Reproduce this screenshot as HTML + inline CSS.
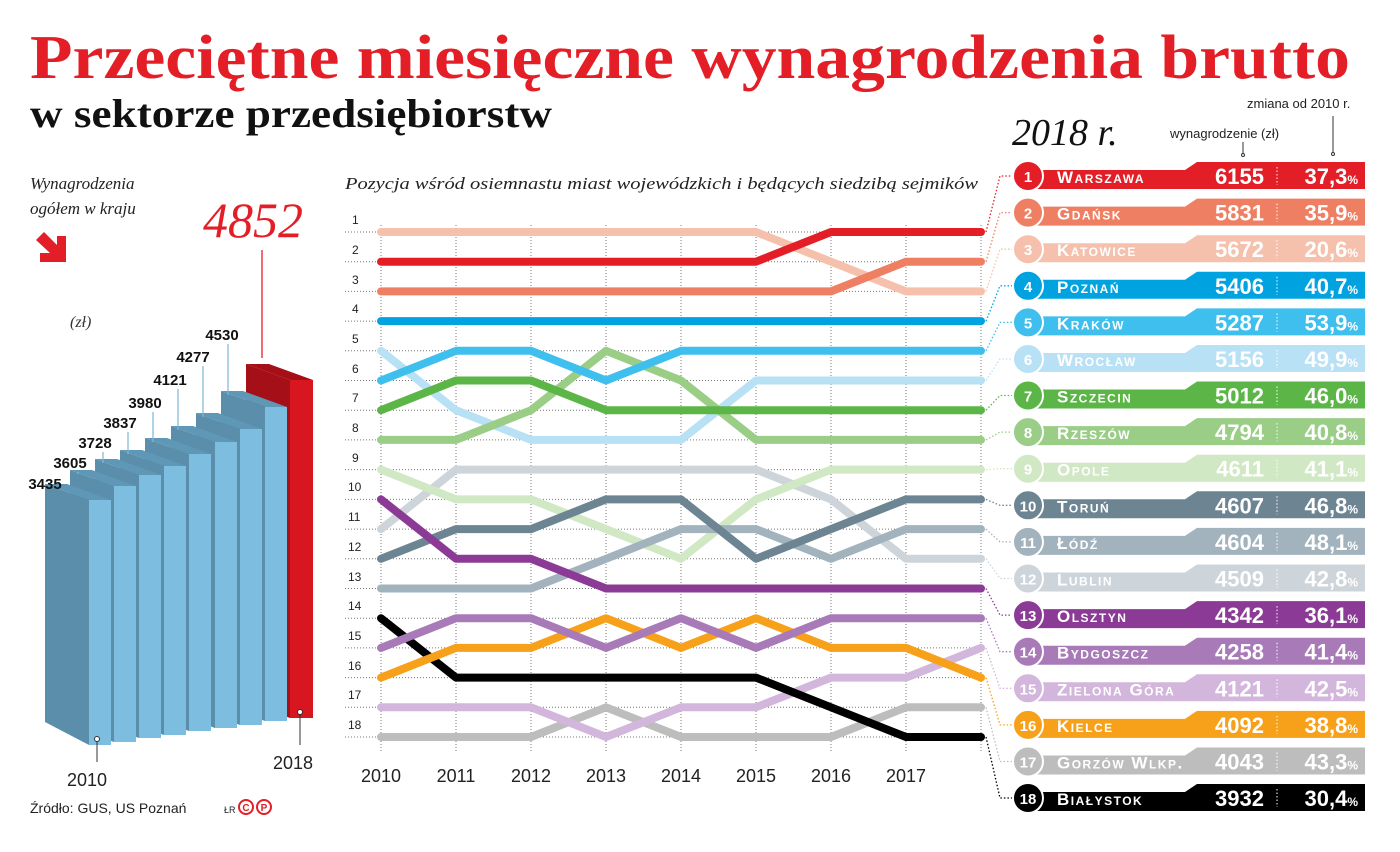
<!DOCTYPE html>
<html><head><meta charset="utf-8">
<style>
html,body{margin:0;padding:0;background:#fff;}
svg{display:block;}
.ser{font-family:"Liberation Serif",serif;}
.sans{font-family:"Liberation Sans",sans-serif;}
.rk{font-family:"Liberation Sans",sans-serif;font-size:12px;fill:#222;}
.yr{font-family:"Liberation Sans",sans-serif;font-size:18px;fill:#222;text-anchor:middle;}
.bl{font-family:"Liberation Sans",sans-serif;font-size:15px;font-weight:bold;fill:#111;text-anchor:middle;}
.n{font-family:"Liberation Sans",sans-serif;font-size:15px;font-weight:bold;fill:#fff;text-anchor:middle;}
.nm{font-family:"Liberation Sans",sans-serif;font-size:17px;font-weight:bold;fill:#fff;font-variant:small-caps;letter-spacing:1.5px;}
.v{font-family:"Liberation Sans",sans-serif;font-size:22px;font-weight:bold;fill:#fff;text-anchor:end;}
.sl{fill:none;stroke-width:8;stroke-linejoin:round;stroke-linecap:round;}
.cn{fill:none;stroke-width:1.3;stroke-dasharray:1.5 2;}
</style></head><body>
<svg width="1400" height="852" viewBox="0 0 1400 852" xmlns="http://www.w3.org/2000/svg">
<rect width="1400" height="852" fill="#fff"/>
<text x="30" y="78" class="ser" font-size="62" font-weight="bold" fill="#e31e26" textLength="1320" lengthAdjust="spacingAndGlyphs">Przeciętne miesięczne wynagrodzenia brutto</text>
<text x="30" y="127" class="ser" font-size="40" font-weight="bold" fill="#111" textLength="522" lengthAdjust="spacingAndGlyphs">w sektorze przedsiębiorstw</text>

<text x="30" y="189" class="ser" font-size="17" font-style="italic" fill="#222">Wynagrodzenia</text>
<text x="30" y="214" class="ser" font-size="17" font-style="italic" fill="#222">ogółem w kraju</text>
<path d="M36,240 L44,232 L57,245 L57,236 L66,236 L66,262 L40,262 L40,253 L50,253 Z" fill="#e31e26"/>
<text x="70" y="327" class="ser" font-size="16" font-style="italic" fill="#333">(zł)</text>
<text x="203" y="237" class="ser" font-size="50" font-style="italic" fill="#e31e26">4852</text>
<line x1="262" y1="250" x2="262" y2="358" stroke="#e31e26" stroke-width="1.3"/>

<g>
<polygon points="246,364 290,380 290,718 246,702" fill="#a50f18"/>
<polygon points="290,380 313,380 269,364 246,364" fill="#a50f18"/>
<rect x="290" y="380" width="23" height="338" fill="#d7161f"/>
<polygon points="221,391 265,407 265,721 221,705" fill="#5a8eab"/>
<polygon points="265,407 287,407 243,391 221,391" fill="#5f97b6"/>
<rect x="265" y="407" width="22" height="314" fill="#7dbde0"/>
<polygon points="196,413 240,429 240,725 196,709" fill="#5a8eab"/>
<polygon points="240,429 262,429 218,413 196,413" fill="#5f97b6"/>
<rect x="240" y="429" width="22" height="296" fill="#7dbde0"/>
<polygon points="171,426 215,442 215,728 171,712" fill="#5a8eab"/>
<polygon points="215,442 237,442 193,426 171,426" fill="#5f97b6"/>
<rect x="215" y="442" width="22" height="286" fill="#7dbde0"/>
<polygon points="145,438 189,454 189,731 145,715" fill="#5a8eab"/>
<polygon points="189,454 211,454 167,438 145,438" fill="#5f97b6"/>
<rect x="189" y="454" width="22" height="277" fill="#7dbde0"/>
<polygon points="120,450 164,466 164,735 120,719" fill="#5a8eab"/>
<polygon points="164,466 186,466 142,450 120,450" fill="#5f97b6"/>
<rect x="164" y="466" width="22" height="269" fill="#7dbde0"/>
<polygon points="95,459 139,475 139,738 95,722" fill="#5a8eab"/>
<polygon points="139,475 161,475 117,459 95,459" fill="#5f97b6"/>
<rect x="139" y="475" width="22" height="263" fill="#7dbde0"/>
<polygon points="70,470 114,486 114,742 70,726" fill="#5a8eab"/>
<polygon points="114,486 136,486 92,470 70,470" fill="#5f97b6"/>
<rect x="114" y="486" width="22" height="256" fill="#7dbde0"/>
<polygon points="45,484 89,500 89,745 45,722" fill="#5a8eab"/>
<polygon points="89,500 111,500 67,484 45,484" fill="#5f97b6"/>
<rect x="89" y="500" width="22" height="245" fill="#7dbde0"/>
</g>
<g stroke="#7ab8d6" stroke-width="1.2">
<line x1="78" y1="472" x2="78" y2="474"/>
<line x1="103" y1="452" x2="103" y2="463"/>
<line x1="128" y1="432" x2="128" y2="454"/>
<line x1="153" y1="412" x2="153" y2="442"/>
<line x1="178" y1="389" x2="178" y2="430"/>
<line x1="203" y1="366" x2="203" y2="417"/>
<line x1="228" y1="344" x2="228" y2="395"/>
</g>
<text x="45" y="489" class="bl">3435</text>
<text x="70" y="468" class="bl">3605</text>
<text x="95" y="448" class="bl">3728</text>
<text x="120" y="428" class="bl">3837</text>
<text x="145" y="408" class="bl">3980</text>
<text x="170" y="385" class="bl">4121</text>
<text x="193" y="362" class="bl">4277</text>
<text x="222" y="340" class="bl">4530</text>
<line x1="97" y1="740" x2="97" y2="762" stroke="#333" stroke-width="1"/>
<circle cx="97" cy="739" r="2.5" fill="#fff" stroke="#333"/>
<line x1="300" y1="713" x2="300" y2="745" stroke="#333" stroke-width="1"/>
<circle cx="300" cy="712" r="2.5" fill="#fff" stroke="#333"/>
<text x="87" y="786" class="yr">2010</text>
<text x="293" y="769" class="yr">2018</text>
<text x="30" y="813" class="sans" font-size="14" fill="#222">Źródło: GUS, US Poznań</text>
<text x="224" y="813" class="sans" font-size="9" fill="#222">ŁR</text>
<circle cx="246" cy="807" r="7" fill="none" stroke="#e31e26" stroke-width="2"/>
<text x="246" y="811" class="sans" font-size="10" font-weight="bold" fill="#e31e26" text-anchor="middle">C</text>
<circle cx="264" cy="807" r="7" fill="none" stroke="#e31e26" stroke-width="2"/>
<text x="264" y="811" class="sans" font-size="10" font-weight="bold" fill="#e31e26" text-anchor="middle">P</text>

<text x="345" y="189" class="ser" font-size="17" font-style="italic" fill="#222" textLength="633" lengthAdjust="spacingAndGlyphs">Pozycja wśród osiemnastu miast wojewódzkich i będących siedzibą sejmików</text>
<g stroke="#777" stroke-width="1" stroke-dasharray="1 2" fill="none">
<path d="M345,232H980M345,261.7H980M345,291.4H980M345,321.1H980M345,350.8H980M345,380.5H980M345,410.2H980M345,439.9H980M345,469.6H980M345,499.4H980M345,529.1H980M345,558.8H980M345,588.5H980M345,618.2H980M345,647.9H980M345,677.6H980M345,707.3H980M345,737H980"/>
<path d="M381,225V752M456,225V752M531,225V752M606,225V752M681,225V752M756,225V752M831,225V752M906,225V752M981,225V752"/>
</g>
<g class="rk">
<text x="352" y="224">1</text><text x="352" y="254">2</text><text x="352" y="284">3</text><text x="352" y="313">4</text><text x="352" y="343">5</text><text x="352" y="373">6</text><text x="352" y="402">7</text><text x="352" y="432">8</text><text x="352" y="462">9</text><text x="348" y="491">10</text><text x="348" y="521">11</text><text x="348" y="551">12</text><text x="348" y="581">13</text><text x="348" y="610">14</text><text x="348" y="640">15</text><text x="348" y="670">16</text><text x="348" y="699">17</text><text x="348" y="729">18</text>
</g>
<g class="yr">
<text x="381" y="782">2010</text><text x="456" y="782">2011</text><text x="531" y="782">2012</text><text x="606" y="782">2013</text><text x="681" y="782">2014</text><text x="756" y="782">2015</text><text x="831" y="782">2016</text><text x="906" y="782">2017</text>
</g>
<g>
<polyline class="sl" stroke="#cdd5db" points="381,529.1 456,469.6 756,469.6 831,499.4 906,558.8 981,558.8"/>
<polyline class="sl" stroke="#d0e8c4" points="381,469.6 456,499.4 531,499.4 606,529.1 681,558.8 756,499.4 831,469.6 981,469.6"/>
<polyline class="sl" stroke="#a2b3be" points="381,588.5 456,588.5 531,588.5 606,558.8 681,529.1 756,529.1 831,558.8 906,529.1 981,529.1"/>
<polyline class="sl" stroke="#6d8593" points="381,558.8 456,529.1 531,529.1 606,499.4 681,499.4 756,558.8 831,529.1 906,499.4 981,499.4"/>
<polyline class="sl" stroke="#8b3a95" points="381,499.4 456,558.8 531,558.8 606,588.5 981,588.5"/>
<polyline class="sl" stroke="#b9e1f6" points="381,350.8 456,410.2 531,439.9 606,439.9 681,439.9 756,380.5 981,380.5"/>
<polyline class="sl" stroke="#9acd86" points="381,439.9 456,439.9 531,410.2 606,350.8 681,380.5 756,439.9 981,439.9"/>
<polyline class="sl" stroke="#5cb647" points="381,410.2 456,380.5 531,380.5 606,410.2 981,410.2"/>
<polyline class="sl" stroke="#3ebfee" points="381,380.5 456,350.8 531,350.8 606,380.5 681,350.8 981,350.8"/>
<polyline class="sl" stroke="#00a3e0" points="381,321.1 981,321.1"/>
<polyline class="sl" stroke="#f6c1ac" points="381,232 756,232 831,261.7 906,291.4 981,291.4"/>
<polyline class="sl" stroke="#ef7f63" points="381,291.4 831,291.4 906,261.7 981,261.7"/>
<polyline class="sl" stroke="#e31e26" points="381,261.7 756,261.7 831,232 981,232"/>
<polyline class="sl" stroke="#bdbdbd" points="381,737 531,737 606,707.3 681,737 831,737 906,707.3 981,707.3"/>
<polyline class="sl" stroke="#d3b6db" points="381,707.3 531,707.3 606,737 681,707.3 756,707.3 831,677.6 906,677.6 981,647.9"/>
<polyline class="sl" stroke="#000" points="381,618.2 456,677.6 756,677.6 831,707.3 906,737 981,737"/>
<polyline class="sl" stroke="#f7a11a" points="381,677.6 456,647.9 531,647.9 606,618.2 681,647.9 756,618.2 831,647.9 906,647.9 981,677.6"/>
<polyline class="sl" stroke="#a97ab8" points="381,647.9 456,618.2 531,618.2 606,647.9 681,618.2 756,647.9 831,618.2 981,618.2"/>
</g>

<g>
<path class="cn" stroke="#e31e26" d="M986,232L1000,176H1013"/>
<path class="cn" stroke="#ef7f63" d="M986,261.7L1000,212.6H1013"/>
<path class="cn" stroke="#f6c1ac" d="M986,291.4L1000,249.2H1013"/>
<path class="cn" stroke="#00a3e0" d="M986,321.1L1000,285.8H1013"/>
<path class="cn" stroke="#3ebfee" d="M986,350.8L1000,322.4H1013"/>
<path class="cn" stroke="#b9e1f6" d="M986,380.5L1000,359H1013"/>
<path class="cn" stroke="#5cb647" d="M986,410.2L1000,395.5H1013"/>
<path class="cn" stroke="#9acd86" d="M986,439.9L1000,432.1H1013"/>
<path class="cn" stroke="#d0e8c4" d="M986,469.6L1000,468.7H1013"/>
<path class="cn" stroke="#6d8593" d="M986,499.4L1000,505.3H1013"/>
<path class="cn" stroke="#a2b3be" d="M986,529.1L1000,541.9H1013"/>
<path class="cn" stroke="#cdd5db" d="M986,558.8L1000,578.5H1013"/>
<path class="cn" stroke="#8b3a95" d="M986,588.5L1000,615.1H1013"/>
<path class="cn" stroke="#a97ab8" d="M986,618.2L1000,651.7H1013"/>
<path class="cn" stroke="#d3b6db" d="M986,647.9L1000,688.3H1013"/>
<path class="cn" stroke="#f7a11a" d="M986,677.6L1000,724.9H1013"/>
<path class="cn" stroke="#bdbdbd" d="M986,707.3L1000,761.5H1013"/>
<path class="cn" stroke="#000" d="M986,737L1000,798H1013"/>
</g>

<text x="1012" y="145" class="ser" font-size="38" font-style="italic" fill="#111">2018 r.</text>
<text x="1170" y="138" class="sans" font-size="13" fill="#222">wynagrodzenie (zł)</text>
<text x="1247" y="108" class="sans" font-size="13" fill="#222">zmiana od 2010 r.</text>
<line x1="1243" y1="142" x2="1243" y2="154" stroke="#333"/>
<circle cx="1243" cy="155" r="1.5" fill="#fff" stroke="#333"/>
<line x1="1333" y1="116" x2="1333" y2="153" stroke="#333"/>
<circle cx="1333" cy="154" r="1.5" fill="#fff" stroke="#333"/>

<g id="rows">
<g transform="translate(0,176)"><path d="M1030,-6H1185L1197,-14H1365V13H1030Z" fill="#e31e26"/><circle cx="1028" r="15" fill="#e31e26" stroke="#fff" stroke-width="2"/><text x="1028" y="6" class="n">1</text><text x="1057" y="7" class="nm">Warszawa</text><text x="1264" y="8" class="v">6155</text><line x1="1277" y1="-9" x2="1277" y2="9" stroke="#fff" stroke-dasharray="1.5 2"/><text x="1358" y="8" class="v">37,3<tspan font-size="12">%</tspan></text></g>
<g transform="translate(0,212.6)"><path d="M1030,-6H1185L1197,-14H1365V13H1030Z" fill="#ef7f63"/><circle cx="1028" r="15" fill="#ef7f63" stroke="#fff" stroke-width="2"/><text x="1028" y="6" class="n">2</text><text x="1057" y="7" class="nm">Gdańsk</text><text x="1264" y="8" class="v">5831</text><line x1="1277" y1="-9" x2="1277" y2="9" stroke="#fff" stroke-dasharray="1.5 2"/><text x="1358" y="8" class="v">35,9<tspan font-size="12">%</tspan></text></g>
<g transform="translate(0,249.2)"><path d="M1030,-6H1185L1197,-14H1365V13H1030Z" fill="#f6c1ac"/><circle cx="1028" r="15" fill="#f6c1ac" stroke="#fff" stroke-width="2"/><text x="1028" y="6" class="n">3</text><text x="1057" y="7" class="nm">Katowice</text><text x="1264" y="8" class="v">5672</text><line x1="1277" y1="-9" x2="1277" y2="9" stroke="#fff" stroke-dasharray="1.5 2"/><text x="1358" y="8" class="v">20,6<tspan font-size="12">%</tspan></text></g>
<g transform="translate(0,285.8)"><path d="M1030,-6H1185L1197,-14H1365V13H1030Z" fill="#00a3e0"/><circle cx="1028" r="15" fill="#00a3e0" stroke="#fff" stroke-width="2"/><text x="1028" y="6" class="n">4</text><text x="1057" y="7" class="nm">Poznań</text><text x="1264" y="8" class="v">5406</text><line x1="1277" y1="-9" x2="1277" y2="9" stroke="#fff" stroke-dasharray="1.5 2"/><text x="1358" y="8" class="v">40,7<tspan font-size="12">%</tspan></text></g>
<g transform="translate(0,322.4)"><path d="M1030,-6H1185L1197,-14H1365V13H1030Z" fill="#3ebfee"/><circle cx="1028" r="15" fill="#3ebfee" stroke="#fff" stroke-width="2"/><text x="1028" y="6" class="n">5</text><text x="1057" y="7" class="nm">Kraków</text><text x="1264" y="8" class="v">5287</text><line x1="1277" y1="-9" x2="1277" y2="9" stroke="#fff" stroke-dasharray="1.5 2"/><text x="1358" y="8" class="v">53,9<tspan font-size="12">%</tspan></text></g>
<g transform="translate(0,359)"><path d="M1030,-6H1185L1197,-14H1365V13H1030Z" fill="#b9e1f6"/><circle cx="1028" r="15" fill="#b9e1f6" stroke="#fff" stroke-width="2"/><text x="1028" y="6" class="n">6</text><text x="1057" y="7" class="nm">Wrocław</text><text x="1264" y="8" class="v">5156</text><line x1="1277" y1="-9" x2="1277" y2="9" stroke="#fff" stroke-dasharray="1.5 2"/><text x="1358" y="8" class="v">49,9<tspan font-size="12">%</tspan></text></g>
<g transform="translate(0,395.5)"><path d="M1030,-6H1185L1197,-14H1365V13H1030Z" fill="#5cb647"/><circle cx="1028" r="15" fill="#5cb647" stroke="#fff" stroke-width="2"/><text x="1028" y="6" class="n">7</text><text x="1057" y="7" class="nm">Szczecin</text><text x="1264" y="8" class="v">5012</text><line x1="1277" y1="-9" x2="1277" y2="9" stroke="#fff" stroke-dasharray="1.5 2"/><text x="1358" y="8" class="v">46,0<tspan font-size="12">%</tspan></text></g>
<g transform="translate(0,432.1)"><path d="M1030,-6H1185L1197,-14H1365V13H1030Z" fill="#9acd86"/><circle cx="1028" r="15" fill="#9acd86" stroke="#fff" stroke-width="2"/><text x="1028" y="6" class="n">8</text><text x="1057" y="7" class="nm">Rzeszów</text><text x="1264" y="8" class="v">4794</text><line x1="1277" y1="-9" x2="1277" y2="9" stroke="#fff" stroke-dasharray="1.5 2"/><text x="1358" y="8" class="v">40,8<tspan font-size="12">%</tspan></text></g>
<g transform="translate(0,468.7)"><path d="M1030,-6H1185L1197,-14H1365V13H1030Z" fill="#d0e8c4"/><circle cx="1028" r="15" fill="#d0e8c4" stroke="#fff" stroke-width="2"/><text x="1028" y="6" class="n">9</text><text x="1057" y="7" class="nm">Opole</text><text x="1264" y="8" class="v">4611</text><line x1="1277" y1="-9" x2="1277" y2="9" stroke="#fff" stroke-dasharray="1.5 2"/><text x="1358" y="8" class="v">41,1<tspan font-size="12">%</tspan></text></g>
<g transform="translate(0,505.3)"><path d="M1030,-6H1185L1197,-14H1365V13H1030Z" fill="#6d8593"/><circle cx="1028" r="15" fill="#6d8593" stroke="#fff" stroke-width="2"/><text x="1028" y="6" class="n">10</text><text x="1057" y="7" class="nm">Toruń</text><text x="1264" y="8" class="v">4607</text><line x1="1277" y1="-9" x2="1277" y2="9" stroke="#fff" stroke-dasharray="1.5 2"/><text x="1358" y="8" class="v">46,8<tspan font-size="12">%</tspan></text></g>
<g transform="translate(0,541.9)"><path d="M1030,-6H1185L1197,-14H1365V13H1030Z" fill="#a2b3be"/><circle cx="1028" r="15" fill="#a2b3be" stroke="#fff" stroke-width="2"/><text x="1028" y="6" class="n">11</text><text x="1057" y="7" class="nm">Łódź</text><text x="1264" y="8" class="v">4604</text><line x1="1277" y1="-9" x2="1277" y2="9" stroke="#fff" stroke-dasharray="1.5 2"/><text x="1358" y="8" class="v">48,1<tspan font-size="12">%</tspan></text></g>
<g transform="translate(0,578.5)"><path d="M1030,-6H1185L1197,-14H1365V13H1030Z" fill="#cdd5db"/><circle cx="1028" r="15" fill="#cdd5db" stroke="#fff" stroke-width="2"/><text x="1028" y="6" class="n">12</text><text x="1057" y="7" class="nm">Lublin</text><text x="1264" y="8" class="v">4509</text><line x1="1277" y1="-9" x2="1277" y2="9" stroke="#fff" stroke-dasharray="1.5 2"/><text x="1358" y="8" class="v">42,8<tspan font-size="12">%</tspan></text></g>
<g transform="translate(0,615.1)"><path d="M1030,-6H1185L1197,-14H1365V13H1030Z" fill="#8b3a95"/><circle cx="1028" r="15" fill="#8b3a95" stroke="#fff" stroke-width="2"/><text x="1028" y="6" class="n">13</text><text x="1057" y="7" class="nm">Olsztyn</text><text x="1264" y="8" class="v">4342</text><line x1="1277" y1="-9" x2="1277" y2="9" stroke="#fff" stroke-dasharray="1.5 2"/><text x="1358" y="8" class="v">36,1<tspan font-size="12">%</tspan></text></g>
<g transform="translate(0,651.7)"><path d="M1030,-6H1185L1197,-14H1365V13H1030Z" fill="#a97ab8"/><circle cx="1028" r="15" fill="#a97ab8" stroke="#fff" stroke-width="2"/><text x="1028" y="6" class="n">14</text><text x="1057" y="7" class="nm">Bydgoszcz</text><text x="1264" y="8" class="v">4258</text><line x1="1277" y1="-9" x2="1277" y2="9" stroke="#fff" stroke-dasharray="1.5 2"/><text x="1358" y="8" class="v">41,4<tspan font-size="12">%</tspan></text></g>
<g transform="translate(0,688.3)"><path d="M1030,-6H1185L1197,-14H1365V13H1030Z" fill="#d3b6db"/><circle cx="1028" r="15" fill="#d3b6db" stroke="#fff" stroke-width="2"/><text x="1028" y="6" class="n">15</text><text x="1057" y="7" class="nm">Zielona Góra</text><text x="1264" y="8" class="v">4121</text><line x1="1277" y1="-9" x2="1277" y2="9" stroke="#fff" stroke-dasharray="1.5 2"/><text x="1358" y="8" class="v">42,5<tspan font-size="12">%</tspan></text></g>
<g transform="translate(0,724.9)"><path d="M1030,-6H1185L1197,-14H1365V13H1030Z" fill="#f7a11a"/><circle cx="1028" r="15" fill="#f7a11a" stroke="#fff" stroke-width="2"/><text x="1028" y="6" class="n">16</text><text x="1057" y="7" class="nm">Kielce</text><text x="1264" y="8" class="v">4092</text><line x1="1277" y1="-9" x2="1277" y2="9" stroke="#fff" stroke-dasharray="1.5 2"/><text x="1358" y="8" class="v">38,8<tspan font-size="12">%</tspan></text></g>
<g transform="translate(0,761.5)"><path d="M1030,-6H1185L1197,-14H1365V13H1030Z" fill="#bdbdbd"/><circle cx="1028" r="15" fill="#bdbdbd" stroke="#fff" stroke-width="2"/><text x="1028" y="6" class="n">17</text><text x="1057" y="7" class="nm">Gorzów Wlkp.</text><text x="1264" y="8" class="v">4043</text><line x1="1277" y1="-9" x2="1277" y2="9" stroke="#fff" stroke-dasharray="1.5 2"/><text x="1358" y="8" class="v">43,3<tspan font-size="12">%</tspan></text></g>
<g transform="translate(0,798)"><path d="M1030,-6H1185L1197,-14H1365V13H1030Z" fill="#000"/><circle cx="1028" r="15" fill="#000" stroke="#fff" stroke-width="2"/><text x="1028" y="6" class="n">18</text><text x="1057" y="7" class="nm">Białystok</text><text x="1264" y="8" class="v">3932</text><line x1="1277" y1="-9" x2="1277" y2="9" stroke="#fff" stroke-dasharray="1.5 2"/><text x="1358" y="8" class="v">30,4<tspan font-size="12">%</tspan></text></g>
</g>
</svg>
</body></html>
